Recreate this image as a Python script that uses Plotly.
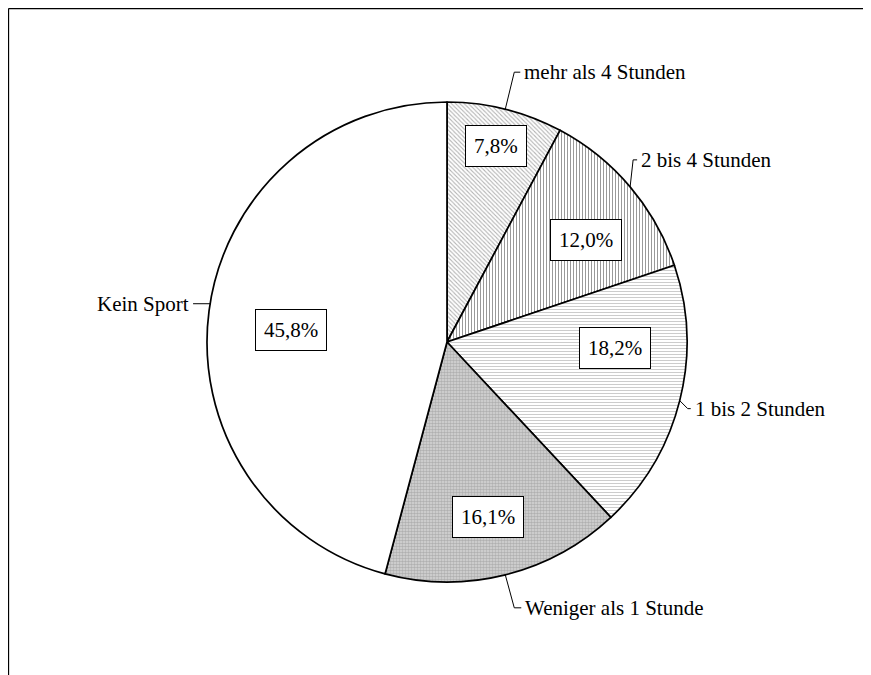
import math
import plotly.graph_objects as go

# ---------------- data ----------------
categories = ["mehr als 4 Stunden", "2 bis 4 Stunden", "1 bis 2 Stunden",
              "Weniger als 1 Stunde", "Kein Sport"]
values = [7.8, 12.0, 18.2, 16.1, 45.8]
pct_labels = ["7,8%", "12,0%", "18,2%", "16,1%", "45,8%"]

# ---------------- layout / style ----------------
W, H = 871, 675
OFF = 8                            # page body margin (screen px)
CX, CY, R = 447, 342, 240          # pie centre (screen px) and radius
FONT = "Liberation Serif, Times New Roman, serif"
FS = 21

patterns = [
    dict(shape="\\", size=3, solidity=0.35, fgcolor="#666666", bgcolor="white"),
    dict(shape="|", size=3, solidity=0.35, fgcolor="#333333", bgcolor="white"),
    dict(shape="-", size=3, solidity=0.35, fgcolor="#999999", bgcolor="white"),
    dict(shape=".", size=3, solidity=0.6, fgcolor="#888888", bgcolor="#d8d8d8"),
    dict(shape="", bgcolor="white"),
]
fill = ["white", "white", "white", "#d0d0d0", "white"]

# percentage box placement (radius fraction, angle tweak in degrees)
box_r = [0.84, 0.72, 0.70, 0.75, 0.65]
box_dang = [0, 4, -12, 1, -3]
# outer label leader: angle tweak, elbow offset from edge point (px), tick length, side
lead_dang = [0, 0, 0, 0, 1.7]
elbow_off = [(9, -37), (3, -27), (8, 8), (9, 33), (0, 0)]
tick_len = [6, 4, 3, 7, 17]
side = [1, 1, 1, 1, -1]


def px2paper(x, y):
    return (x - OFF) / W, 1 - (y - OFF) / H


fig = go.Figure(go.Pie(
    labels=categories,
    values=values,
    sort=False,
    direction="clockwise",
    rotation=0,
    textinfo="none",
    hoverinfo="label+percent",
    marker=dict(colors=fill, line=dict(color="black", width=1.7),
                pattern=dict(shape=[p.get("shape", "") for p in patterns],
                             size=[p.get("size", 4) for p in patterns],
                             solidity=[p.get("solidity", 0.3) for p in patterns],
                             fgcolor=[p.get("fgcolor", "black") for p in patterns],
                             bgcolor=[p.get("bgcolor", "white") for p in patterns],
                             fillmode="overlay")),
    domain=dict(x=[(CX - R - OFF) / W, (CX + R - OFF) / W],
                y=[1 - (CY + R - OFF) / H, 1 - (CY - R - OFF) / H]),
    showlegend=False,
))

total = sum(values)
cum = 0.0
annotations = []
shapes = []
for i, v in enumerate(values):
    mid = (cum + v / 2) / total * 2 * math.pi
    cum += v
    # percentage box
    a = mid + math.radians(box_dang[i])
    bx = CX + box_r[i] * R * math.sin(a)
    by = CY - box_r[i] * R * math.cos(a)
    x, y = px2paper(bx, by)
    annotations.append(dict(x=x, y=y, xref="paper", yref="paper", text=pct_labels[i],
                            xanchor="center", yanchor="middle",
                            showarrow=False, bgcolor="white", bordercolor="black",
                            borderwidth=1, borderpad=8,
                            font=dict(family=FONT, size=FS, color="black")))
    # leader line + category label
    la = mid + math.radians(lead_dang[i])
    ex = CX + R * math.sin(la)
    ey = CY - R * math.cos(la)
    elx, ely = ex + elbow_off[i][0], ey + elbow_off[i][1]
    tx = elx + side[i] * tick_len[i]
    for (x0, y0, x1, y1) in [(ex, ey, elx, ely), (elx, ely, tx, ely)]:
        if (x0, y0) == (x1, y1):
            continue
        p0 = px2paper(x0, y0)
        p1 = px2paper(x1, y1)
        shapes.append(dict(type="line", xref="paper", yref="paper",
                           x0=p0[0], y0=p0[1], x1=p1[0], y1=p1[1],
                           line=dict(color="black", width=1)))
    lx, ly = px2paper(tx + side[i] * 2, ely)
    annotations.append(dict(x=lx, y=ly, xref="paper", yref="paper", text=categories[i],
                            showarrow=False, xanchor="left" if side[i] > 0 else "right",
                            yanchor="middle",
                            font=dict(family=FONT, size=FS, color="black")))

# chart frame (top and left edges)
for (x0, y0, x1, y1) in [(8.5, 8.5, W + OFF, 8.5), (8.5, 8.5, 8.5, H + OFF)]:
    p0 = px2paper(x0, y0)
    p1 = px2paper(x1, y1)
    shapes.append(dict(type="line", xref="paper", yref="paper",
                       x0=p0[0], y0=p0[1], x1=p1[0], y1=p1[1],
                       line=dict(color="black", width=1.3)))

fig.update_layout(
    width=W, height=H,
    margin=dict(l=0, r=0, t=0, b=0),
    paper_bgcolor="white", plot_bgcolor="white",
    annotations=annotations, shapes=shapes,
    font=dict(family=FONT, color="black"),
)

fig.write_html("out.html")
